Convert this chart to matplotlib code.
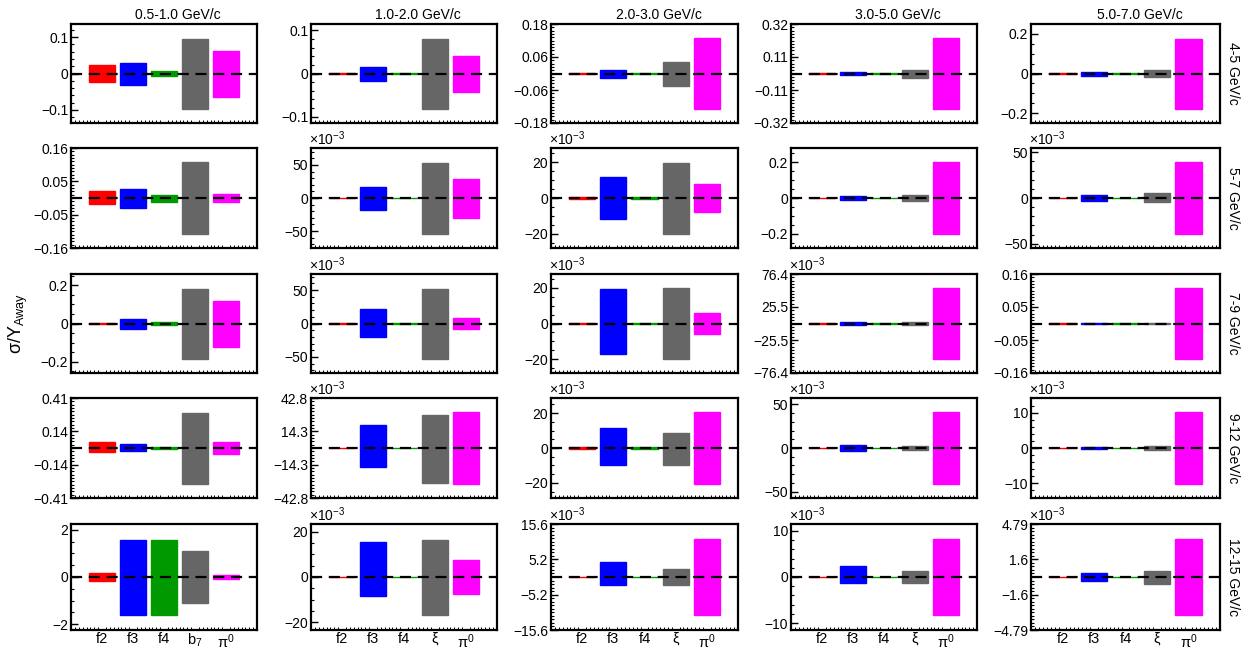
import matplotlib
matplotlib.use("Agg")
import matplotlib.pyplot as plt
from matplotlib.ticker import FixedLocator
import numpy as np

plt.rcParams["font.family"] = ["Liberation Sans", "DejaVu Sans"]
plt.rcParams["mathtext.fontset"] = "custom"
plt.rcParams["mathtext.rm"] = "Liberation Sans"
plt.rcParams["mathtext.it"] = "Liberation Sans:italic"
plt.rcParams["axes.unicode_minus"] = True

ASSOC_BINS = ["0.5-1.0 GeV/c", "1.0-2.0 GeV/c", "2.0-3.0 GeV/c", "3.0-5.0 GeV/c", "5.0-7.0 GeV/c"]
TRIG_BINS = ["4-5 GeV/c", "5-7 GeV/c", "7-9 GeV/c", "9-12 GeV/c", "12-15 GeV/c"]
SOURCES_FIRST = ["f2", "f3", "f4", r"$\mathregular{b_7}$", r"$\mathregular{\pi^0}$"]
SOURCES = ["f2", "f3", "f4", "ξ", r"$\mathregular{\pi^0}$"]
COLORS = ["#ff0000", "#0000ff", "#009900", "#666666", "#ff00ff"]

# upper / lower extent of each bar, one row per trigger bin, [assoc bin][source]
UP_4_5 = [[0.024, 0.028, 0.006, 0.096, 0.062],
          [0.0008, 0.015, 0.0008, 0.080, 0.041],
          [0.001, 0.014, 0.001, 0.044, 0.129],
          [0.002, 0.011, 0.002, 0.022, 0.230],
          [0.001, 0.010, 0.001, 0.017, 0.176]]
DOWN_4_5 = [[0.024, 0.031, 0.008, 0.097, 0.064],
            [0.0008, 0.018, 0.0008, 0.082, 0.044],
            [0.001, 0.017, 0.001, 0.047, 0.130],
            [0.002, 0.011, 0.002, 0.027, 0.230],
            [0.001, 0.012, 0.001, 0.020, 0.178]]

UP_5_7 = [[0.021, 0.030, 0.009, 0.115, 0.013],
          [0.0005, 0.016, 0.0005, 0.053, 0.029],
          [0.0003, 0.0115, 0.0003, 0.0198, 0.0078],
          [0.002, 0.012, 0.002, 0.018, 0.200],
          [0.0003, 0.003, 0.0003, 0.005, 0.039]]
DOWN_5_7 = [[0.019, 0.033, 0.012, 0.115, 0.013],
            [0.0005, 0.018, 0.0005, 0.054, 0.030],
            [0.0003, 0.012, 0.0003, 0.020, 0.0078],
            [0.002, 0.012, 0.002, 0.018, 0.200],
            [0.0003, 0.003, 0.0003, 0.004, 0.039]]

UP_7_9 = [[0.004, 0.026, 0.007, 0.182, 0.119],
          [0.0005, 0.022, 0.0005, 0.052, 0.008],
          [0.0003, 0.019, 0.0003, 0.0196, 0.006],
          [0.0008, 0.003, 0.0008, 0.0025, 0.0546],
          [0.0005, 0.0015, 0.0005, 0.0015, 0.114]]
DOWN_7_9 = [[0.004, 0.029, 0.007, 0.186, 0.123],
            [0.0005, 0.020, 0.0005, 0.053, 0.008],
            [0.0003, 0.017, 0.0003, 0.0197, 0.006],
            [0.0008, 0.003, 0.0008, 0.0025, 0.0546],
            [0.0005, 0.0015, 0.0005, 0.0015, 0.114]]

UP_9_12 = [[0.050, 0.033, 0.008, 0.294, 0.050],
           [0.0003, 0.020, 0.0003, 0.028, 0.0306],
           [0.0003, 0.0114, 0.0003, 0.0086, 0.0205],
           [0.0005, 0.0035, 0.0005, 0.0025, 0.041],
           [0.0001, 0.0004, 0.0001, 0.0006, 0.0101]]
DOWN_9_12 = [[0.030, 0.027, 0.008, 0.296, 0.050],
             [0.0003, 0.016, 0.0003, 0.030, 0.0306],
             [0.0003, 0.0097, 0.0003, 0.0097, 0.0205],
             [0.0005, 0.0035, 0.0005, 0.0025, 0.041],
             [0.0001, 0.0004, 0.0001, 0.0006, 0.0101]]

UP_12_15 = [[0.18, 1.58, 1.58, 1.10, 0.07],
            [0.0002, 0.0154, 0.0002, 0.0164, 0.0073],
            [0.0001, 0.0044, 0.0001, 0.0024, 0.01115],
            [0.0001, 0.0024, 0.0001, 0.0013, 0.0082],
            [0.00003, 0.00036, 0.00003, 0.00054, 0.00342]]
DOWN_12_15 = [[0.17, 1.60, 1.60, 1.10, 0.07],
              [0.0002, 0.0085, 0.0002, 0.0167, 0.0073],
              [0.0001, 0.0024, 0.0001, 0.0024, 0.01115],
              [0.0001, 0.0013, 0.0001, 0.0013, 0.0082],
              [0.00003, 0.00033, 0.00003, 0.00063, 0.00342]]

UP = [UP_4_5, UP_5_7, UP_7_9, UP_9_12, UP_12_15]
DOWN = [DOWN_4_5, DOWN_5_7, DOWN_7_9, DOWN_9_12, DOWN_12_15]

# panels with "round" major ticks; the others are labelled at +-L and +-L/3
TICK_STEP = {(0, 0): 0.1, (0, 1): 0.1, (0, 4): 0.2,
             (1, 1): 0.05, (1, 2): 0.02, (1, 3): 0.2, (1, 4): 0.05,
             (2, 0): 0.2, (2, 1): 0.05, (2, 2): 0.02,
             (3, 2): 0.02, (3, 3): 0.05, (3, 4): 0.01,
             (4, 0): 2.0, (4, 1): 0.02, (4, 3): 0.01}

W, H = 1250, 651
col_left = [71, 311, 551, 791, 1031]
col_width = [186, 186, 187, 186, 189]
row_top = [24, 148, 274, 398, 524]
row_height = [99, 100, 99, 100, 106]

fig = plt.figure(figsize=(W / 100, H / 100), dpi=100)
x = np.arange(1, 6)


def fmt_num(v, dec):
    s = f"{v:.{dec}f}"
    if "." in s:
        s = s.rstrip("0").rstrip(".")
    if s in ("-0", ""):
        s = "0"
    return s.replace("-", "\u2212")


for r in range(5):
    for c in range(5):
        ax = fig.add_axes([col_left[c] / W, 1 - (row_top[r] + row_height[r]) / H,
                           col_width[c] / W, row_height[r] / H])
        up = np.array(UP[r][c])
        down = np.array(DOWN[r][c])
        ax.bar(x, up + down, bottom=-down, width=0.84, color=COLORS,
               edgecolor=COLORS, linewidth=1.0, zorder=2)
        ax.axhline(0, color="black", lw=1.6, ls=(0, (5, 3)), zorder=3)

        ylim = 1.4 * max(up.max(), down.max())
        ax.set_ylim(-ylim, ylim)
        ax.set_xlim(0, 6)
        scale = 1e-3 if ylim < 0.1 else 1.0

        step = TICK_STEP.get((r, c))
        if step is not None:
            n = int(np.floor(ylim / step + 1e-9))
            majors = np.arange(-n, n + 1) * step
            mant = round(step / 10 ** np.floor(np.log10(step)))
            nsub = 4 if mant == 2 else 5
            m = int(np.floor(ylim / (step / nsub)))
            minors = np.arange(-m, m + 1) * step / nsub
            labels = [fmt_num(v / scale, 6) for v in majors]
        else:
            majors = np.array([-ylim, -ylim / 3, ylim / 3, ylim])
            minors = np.arange(-15, 16) * ylim / 15
            dec = 1 if ylim / scale >= 10 else 2
            labels = [fmt_num(v / scale, dec) for v in majors]
        ax.yaxis.set_major_locator(FixedLocator(majors))
        ax.yaxis.set_minor_locator(FixedLocator(minors))
        ax.set_yticklabels(labels)
        ax.tick_params(axis="y", which="major", direction="in", length=5, width=1,
                       labelsize=10, pad=2, right=False)
        ax.tick_params(axis="y", which="minor", direction="in", length=2.5, width=0.8,
                       right=False)

        ax.set_xticks(x)
        ax.xaxis.set_minor_locator(FixedLocator(np.arange(0, 6.01, 0.125)))
        ax.tick_params(axis="x", which="major", direction="in", length=0, pad=1.5,
                       labelsize=10.5, top=False)
        ax.tick_params(axis="x", which="minor", direction="in", length=2, width=0.7,
                       top=False)
        if r == 4:
            ax.set_xticklabels(SOURCES_FIRST if c == 0 else SOURCES)
        else:
            ax.set_xticklabels([])

        for sp in ax.spines.values():
            sp.set_linewidth(1.6)

        if scale != 1.0:
            ax.text(-0.01, 1.003, r"$\mathregular{\times10^{-3}}$", transform=ax.transAxes,
                    ha="left", va="bottom", fontsize=10)

        if r == 0:
            fig.text((col_left[c] + col_width[c] / 2 + 14) / W, 1 - 15 / H, ASSOC_BINS[c],
                     ha="center", va="center", fontsize=10)
        if c == 4:
            fig.text(1233 / W, 1 - (row_top[r] + row_height[r] / 2) / H, TRIG_BINS[r],
                     ha="center", va="center", rotation=-90, fontsize=10)

fig.text(18 / W, 1 - 323 / H, r"$\mathregular{\sigma/Y_{Away}}$", rotation=90,
         ha="center", va="center", fontsize=13)

plt.savefig("out.png", dpi=100)
plt.close()
